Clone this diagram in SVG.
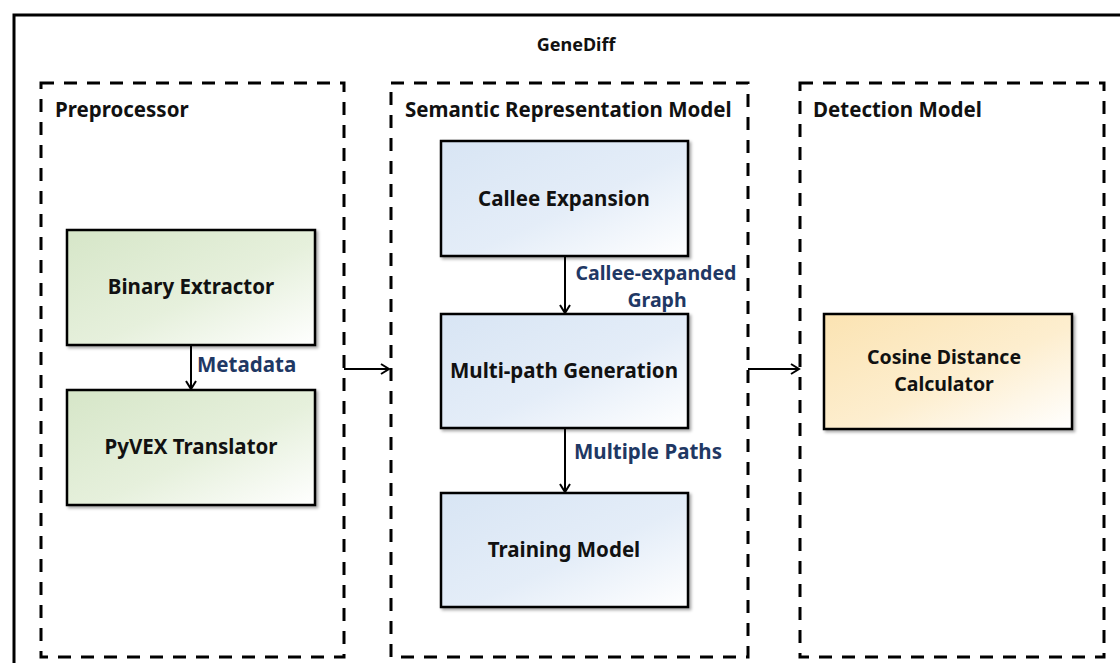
<svg xmlns="http://www.w3.org/2000/svg" width="1120" height="663" viewBox="0 0 1120 663">
  <style>
    .t { font-family: "Noto Sans", "Open Sans", sans-serif; font-weight: bold; fill: #111; }
    .node { font-size: 20.5px; }
    .node2 { font-size: 19.5px; }
    .grp { font-size: 20.5px; }
    .title { font-size: 18px; }
    .lbl { font-family: "Noto Sans", "Open Sans", sans-serif; font-weight: bold; font-size: 20.5px; fill: #1F3864; }
    .lbl2 { font-size: 19.5px; }
    .dash { fill: none; stroke: #000; stroke-width: 3; stroke-dasharray: 13 10; }
    .box { stroke: #000; stroke-width: 2.5; filter: url(#sh); }
    .conn { fill: none; stroke: #000; stroke-width: 2; marker-end: url(#arr); }
  </style>
  <defs>
    <linearGradient id="gGreen" x1="0" y1="0" x2="1" y2="1">
      <stop offset="0" stop-color="#d6e6c8"/>
      <stop offset="0.55" stop-color="#e6f0dc"/>
      <stop offset="1" stop-color="#ffffff"/>
    </linearGradient>
    <linearGradient id="gBlue" x1="0" y1="0" x2="1" y2="1">
      <stop offset="0" stop-color="#d8e5f4"/>
      <stop offset="0.55" stop-color="#e4edf8"/>
      <stop offset="1" stop-color="#ffffff"/>
    </linearGradient>
    <linearGradient id="gYellow" x1="0" y1="0" x2="1" y2="1">
      <stop offset="0" stop-color="#fbe3b2"/>
      <stop offset="0.55" stop-color="#fdeecf"/>
      <stop offset="1" stop-color="#ffffff"/>
    </linearGradient>
    <filter id="sh" x="-5%" y="-5%" width="115%" height="120%">
      <feDropShadow dx="2" dy="2" stdDeviation="1.5" flood-color="#000" flood-opacity="0.35"/>
    </filter>
    <marker id="arr" markerWidth="12" markerHeight="12" refX="10" refY="6" orient="auto" markerUnits="userSpaceOnUse">
      <path d="M2,1 L10,6 L2,11" fill="none" stroke="#000" stroke-width="2"/>
    </marker>
  </defs>

  <rect x="0" y="0" width="1120" height="663" fill="#fff"/>

  <g id="outer">
    <rect x="14" y="15" width="1130" height="700" fill="none" stroke="#000" stroke-width="3"/>
    <text class="t title" x="576" y="51" text-anchor="middle">GeneDiff</text>
  </g>

  <g id="preprocessor">
    <rect class="dash" x="41" y="83" width="303" height="574"/>
    <text class="t grp" x="55" y="117">Preprocessor</text>
  </g>
  <g id="semantic">
    <rect class="dash" x="391" y="83" width="357" height="574"/>
    <text class="t grp" x="405" y="117">Semantic Representation Model</text>
  </g>
  <g id="detection">
    <rect class="dash" x="800" y="83" width="304" height="574"/>
    <text class="t grp" x="813" y="117">Detection Model</text>
  </g>

  <g id="binary-extractor">
    <rect class="box" x="67" y="230" width="248" height="115" fill="url(#gGreen)"/>
    <text class="t node" x="191" y="294" text-anchor="middle">Binary Extractor</text>
  </g>
  <g id="pyvex-translator">
    <rect class="box" x="67" y="390" width="248" height="115" fill="url(#gGreen)"/>
    <text class="t node" x="191" y="454" text-anchor="middle">PyVEX Translator</text>
  </g>
  <g id="callee-expansion">
    <rect class="box" x="441" y="141" width="247" height="115" fill="url(#gBlue)"/>
    <text class="t node" x="564" y="206" text-anchor="middle">Callee Expansion</text>
  </g>
  <g id="multi-path-generation">
    <rect class="box" x="441" y="314" width="247" height="114" fill="url(#gBlue)"/>
    <text class="t node" x="564" y="378" text-anchor="middle">Multi-path Generation</text>
  </g>
  <g id="training-model">
    <rect class="box" x="441" y="493" width="247" height="114" fill="url(#gBlue)"/>
    <text class="t node" x="564" y="557" text-anchor="middle">Training Model</text>
  </g>
  <g id="cosine-distance-calculator">
    <rect class="box" x="824" y="314" width="248" height="115" fill="url(#gYellow)"/>
    <text class="t node2" x="944" y="364" text-anchor="middle">Cosine Distance</text>
    <text class="t node2" x="944" y="391" text-anchor="middle">Calculator</text>
  </g>

  <g id="connectors">
    <line class="conn" x1="191" y1="345" x2="191" y2="389"/>
    <text class="lbl" x="197" y="372">Metadata</text>
    <line class="conn" x1="344" y1="369" x2="389" y2="369"/>
    <line class="conn" x1="565" y1="256" x2="565" y2="313"/>
    <text class="lbl lbl2" x="656" y="280" text-anchor="middle">Callee-expanded</text>
    <text class="lbl lbl2" x="657" y="307" text-anchor="middle">Graph</text>
    <line class="conn" x1="565" y1="428" x2="565" y2="492"/>
    <text class="lbl" x="574" y="459">Multiple Paths</text>
    <line class="conn" x1="748" y1="369" x2="799" y2="369"/>
  </g>
</svg>
